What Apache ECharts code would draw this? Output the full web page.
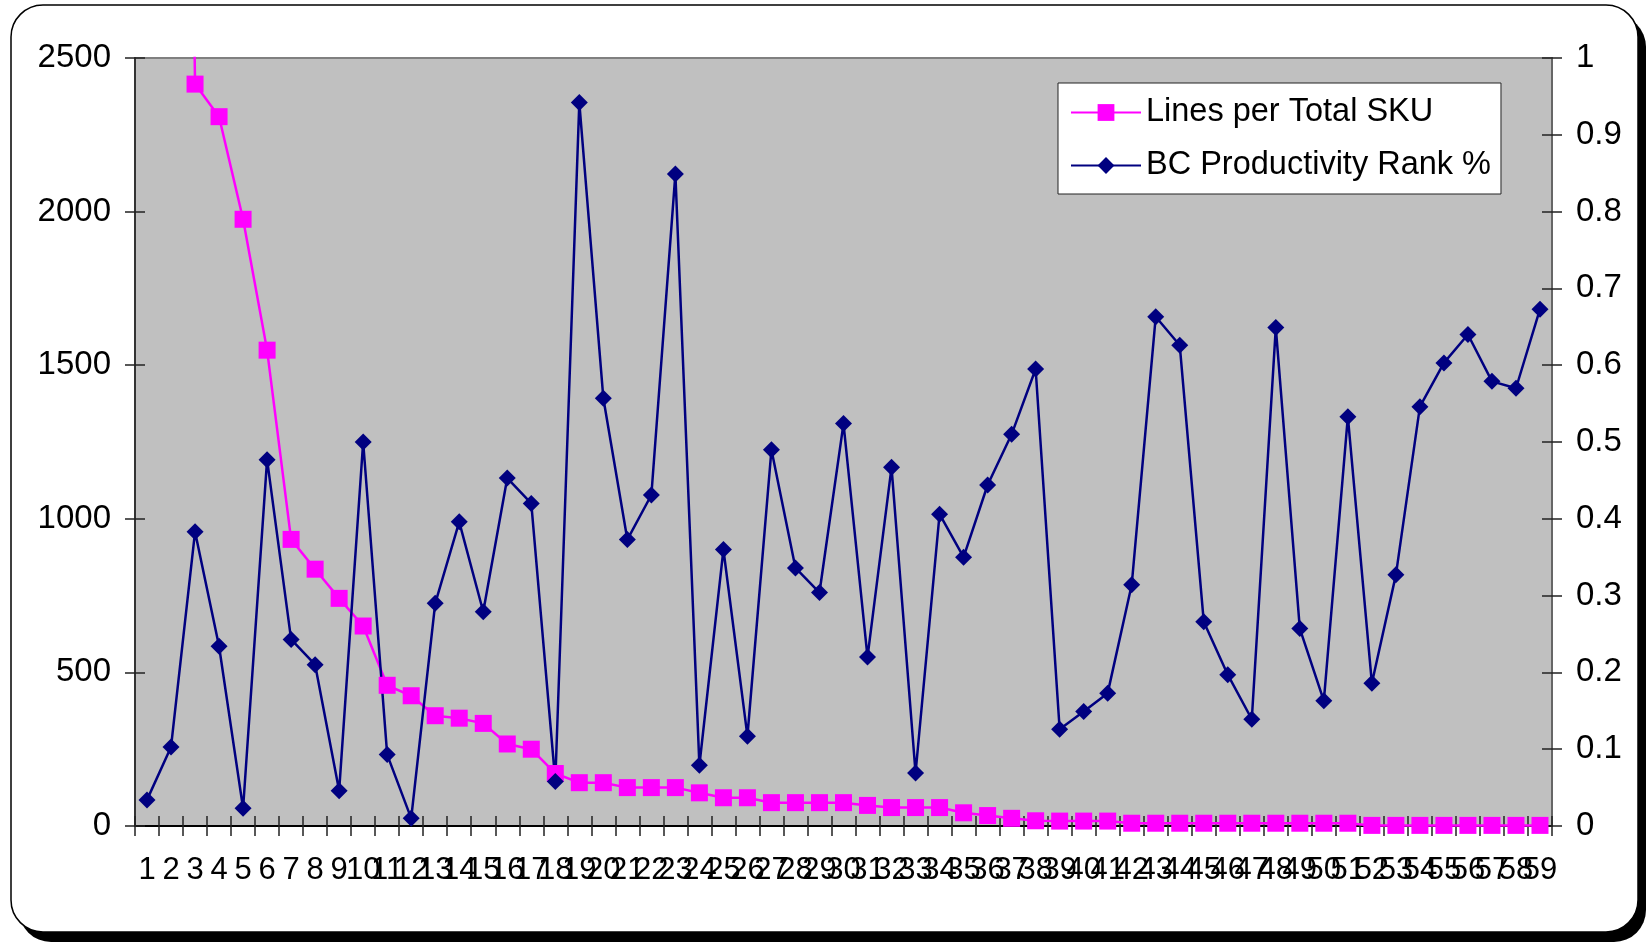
<!DOCTYPE html>
<html>
<head>
<meta charset="utf-8">
<script src="https://cdn.jsdelivr.net/npm/echarts@6/dist/echarts.min.js"></script>
<style>
  html, body { margin: 0; padding: 0; background: #ffffff; }
  #chart { width: 1652px; height: 943px; }
</style>
</head>
<body>
<div id="chart"></div>
<script>
// Category labels along the bottom axis
const categories = ['1','2','3','4','5','6','7','8','9','10',
  '11','12','13','14','15','16','17','18','19','20',
  '21','22','23','24','25','26','27','28','29','30',
  '31','32','33','34','35','36','37','38','39','40',
  '41','42','43','44','45','46','47','48','49','50',
  '51','52','53','54','55','56','57','58','59'];

// Lines per Total SKU (left axis); the first two run off the top of the scale
const linesPerSku = [15000, 8000, 2415, 2309, 1975, 1549, 933, 836, 741, 651,
  458, 424, 359, 351, 334, 267, 250, 171, 141, 141,
  125, 125, 125, 108, 92, 92, 76, 76, 76, 76,
  67, 60, 60, 60, 43, 34, 25, 17, 16, 16,
  16, 9, 9, 9, 9, 9, 9, 9, 9, 9,
  9, 2, 2, 2, 2, 2, 2, 2, 2];

// BC Productivity Rank % (right axis, 0..1)
const bcRank = [0.034, 0.103, 0.383, 0.234, 0.023, 0.477, 0.243, 0.210, 0.046, 0.500,
  0.093, 0.010, 0.290, 0.396, 0.279, 0.453, 0.420, 0.058, 0.942, 0.557,
  0.373, 0.431, 0.849, 0.079, 0.360, 0.117, 0.490, 0.336, 0.304, 0.524,
  0.220, 0.467, 0.069, 0.406, 0.350, 0.444, 0.510, 0.595, 0.126, 0.149,
  0.173, 0.314, 0.663, 0.626, 0.266, 0.197, 0.139, 0.649, 0.257, 0.163,
  0.533, 0.186, 0.327, 0.546, 0.603, 0.640, 0.579, 0.570, 0.673];

// Axis scales
const leftAxis = { min: 0, max: 2500, interval: 500 };
const rightAxis = { min: 0, max: 1, interval: 0.1 };

const FONT = "'Liberation Sans', Arial, sans-serif";
const tickStyle = { color: '#222', width: 1.5 };
// Plain numbers, no thousands separator
const plainNumber = v => String(Math.round(v * 1000) / 1000);

const chart = echarts.init(document.getElementById('chart'), null, { renderer: 'canvas' });

chart.setOption({
  animation: false,
  backgroundColor: '#ffffff',
  textStyle: { fontFamily: FONT },
  graphic: [
    { type: 'rect', silent: true, z: -100,
      shape: { x: 19, y: 15, width: 1627, height: 927, r: 32 },
      style: { fill: '#000000' } },
    { type: 'rect', silent: true, z: -99,
      shape: { x: 11, y: 5, width: 1627, height: 927, r: 32 },
      style: { fill: '#ffffff', stroke: '#000000', lineWidth: 1.5 } }
  ],
  grid: {
    left: 135, top: 58, right: 100, bottom: 117,
    show: true, backgroundColor: '#C0C0C0',
    borderColor: '#808080', borderWidth: 2
  },
  legend: {
    orient: 'vertical',
    left: 1058, top: 83,
    padding: [13, 10, 12, 12],
    itemGap: 20,
    itemWidth: 70, itemHeight: 21,
    backgroundColor: '#ffffff',
    borderColor: '#222', borderWidth: 1,
    textStyle: { fontSize: 32.5, color: '#000', fontFamily: FONT },
    data: ['Lines per Total SKU', 'BC Productivity Rank %']
  },
  xAxis: [
    {
      type: 'category', data: categories, boundaryGap: true, position: 'bottom',
      axisLine: { show: true, lineStyle: { color: '#000', width: 2 } },
      axisTick: { show: true, length: 10, lineStyle: tickStyle },
      axisLabel: { interval: 0, fontSize: 31, color: '#000', margin: 29, fontFamily: FONT },
      splitLine: { show: false }
    },
    {
      type: 'category', data: categories, boundaryGap: true, position: 'bottom',
      axisLine: { show: false },
      axisTick: { show: true, inside: true, length: 10, lineStyle: tickStyle },
      axisLabel: { show: false },
      splitLine: { show: false }
    }
  ],
  yAxis: [
    {
      type: 'value', position: 'left',
      min: leftAxis.min, max: leftAxis.max, interval: leftAxis.interval,
      axisLine: { show: true, lineStyle: { color: '#333', width: 2 } },
      axisTick: { show: true, length: 10, lineStyle: tickStyle },
      axisLabel: { fontSize: 33, color: '#000', margin: 24, fontFamily: FONT, formatter: plainNumber },
      splitLine: { show: false }
    },
    {
      type: 'value', position: 'right',
      min: rightAxis.min, max: rightAxis.max, interval: rightAxis.interval,
      axisLine: { show: true, lineStyle: { color: '#666', width: 2 } },
      axisTick: { show: true, length: 10, lineStyle: tickStyle },
      axisLabel: { fontSize: 33, color: '#000', margin: 24, fontFamily: FONT, formatter: plainNumber },
      splitLine: { show: false }
    },
    {
      type: 'value', position: 'left',
      min: leftAxis.min, max: leftAxis.max, interval: leftAxis.interval,
      axisLine: { show: false },
      axisTick: { show: true, inside: true, length: 10, lineStyle: tickStyle },
      axisLabel: { show: false },
      splitLine: { show: false }
    },
    {
      type: 'value', position: 'right',
      min: rightAxis.min, max: rightAxis.max, interval: rightAxis.interval,
      axisLine: { show: false },
      axisTick: { show: true, inside: true, length: 10, lineStyle: tickStyle },
      axisLabel: { show: false },
      splitLine: { show: false }
    }
  ],
  series: [
    {
      name: 'Lines per Total SKU',
      type: 'line',
      xAxisIndex: 0, yAxisIndex: 0,
      data: linesPerSku,
      clip: true,
      symbol: 'rect', symbolSize: 17,
      showAllSymbol: true,
      color: '#FF00FF',
      itemStyle: { color: '#FF00FF' },
      lineStyle: { color: '#FF00FF', width: 2.5 }
    },
    {
      name: 'BC Productivity Rank %',
      type: 'line',
      xAxisIndex: 0, yAxisIndex: 1,
      data: bcRank,
      clip: true,
      symbol: 'diamond', symbolSize: 17,
      showAllSymbol: true,
      color: '#000080',
      itemStyle: { color: '#000080' },
      lineStyle: { color: '#000080', width: 2.5 }
    }
  ]
});
</script>
</body>
</html>
